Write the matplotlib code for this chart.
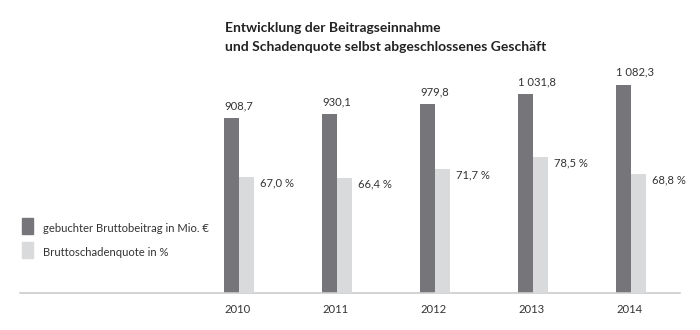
import matplotlib.pyplot as plt
import matplotlib.patches as mpatches
import numpy as np

plt.rcParams['font.family'] = ['Lato', 'DejaVu Sans']

# data
years = ['2010', '2011', '2012', '2013', '2014']
beitrag = [908.7, 930.1, 979.8, 1031.8, 1082.3]   # Mio. EUR
schadenquote = [67.0, 66.4, 71.7, 78.5, 68.8]     # %

dark = '#76767a'
light = '#d9dadc'
txt = '#333333'
fs = 8.1


def fmt_de(v):
    # German style: space as thousands separator, comma as decimal
    return f"{v:,.1f}".replace(",", " ").replace(".", ",")


fig = plt.figure(figsize=(7, 3.3), dpi=100)
# axes from x=20px to 680px, baseline at y=293px, top at y=60px
ax = fig.add_axes([20 / 700, 37 / 330, 660 / 700, 233 / 330])
ax2 = ax.twinx()

x = np.arange(len(years))
w = 0.153

ax.bar(x, beitrag, width=w, color=dark, zorder=2)
ax2.bar(x + w, schadenquote, width=w, color=light, zorder=2)

ax.set_xlim(-2.158, 4.577)
ax.set_ylim(0, 1210)
ax2.set_ylim(0, 134.7)

# value labels
for i, v in enumerate(beitrag):
    ax.annotate(fmt_de(v), (x[i] - w / 2, v), xytext=(0, 5), textcoords='offset points',
                ha='left', va='bottom', fontsize=fs, color=txt)
for i, v in enumerate(schadenquote):
    ax2.annotate(fmt_de(v) + ' %', (x[i] + 1.5 * w, v), xytext=(4, -4), textcoords='offset points',
                 ha='left', va='center', fontsize=fs, color=txt)

# year labels, left aligned to the dark bar
for i, y in enumerate(years):
    ax.annotate(y, (x[i] - w / 2, 0), xytext=(0, -8), textcoords='offset points',
                ha='left', va='top', fontsize=fs, color=txt)

for a in (ax, ax2):
    for s in ['top', 'right', 'left']:
        a.spines[s].set_visible(False)
    a.set_yticks([])
    a.set_xticks([])
ax2.spines['bottom'].set_visible(False)
ax.spines['bottom'].set_color('#cccccc')
ax.spines['bottom'].set_linewidth(1.2)

# title
fig.text(225 / 700, 1 - 28 / 330, 'Entwicklung der Beitragseinnahme', fontsize=10,
         fontweight='bold', color='#222222', ha='left', va='center')
fig.text(225 / 700, 1 - 47 / 330, 'und Schadenquote selbst abgeschlossenes Geschäft', fontsize=10,
         fontweight='bold', color='#222222', ha='left', va='center')

# legend as manual boxes
fig.patches.append(mpatches.Rectangle((22 / 700, 1 - 234 / 330), 11 / 700, 16 / 330,
                                      transform=fig.transFigure, color=dark))
fig.patches.append(mpatches.Rectangle((22 / 700, 1 - 258 / 330), 11 / 700, 16 / 330,
                                      transform=fig.transFigure, color=light))
fig.text(43 / 700, 1 - 229 / 330, 'gebuchter Bruttobeitrag in Mio. €', fontsize=fs,
         color=txt, ha='left', va='center')
fig.text(43 / 700, 1 - 253 / 330, 'Bruttoschadenquote in %', fontsize=fs,
         color=txt, ha='left', va='center')

fig.savefig('out.png', dpi=100, facecolor='white')
